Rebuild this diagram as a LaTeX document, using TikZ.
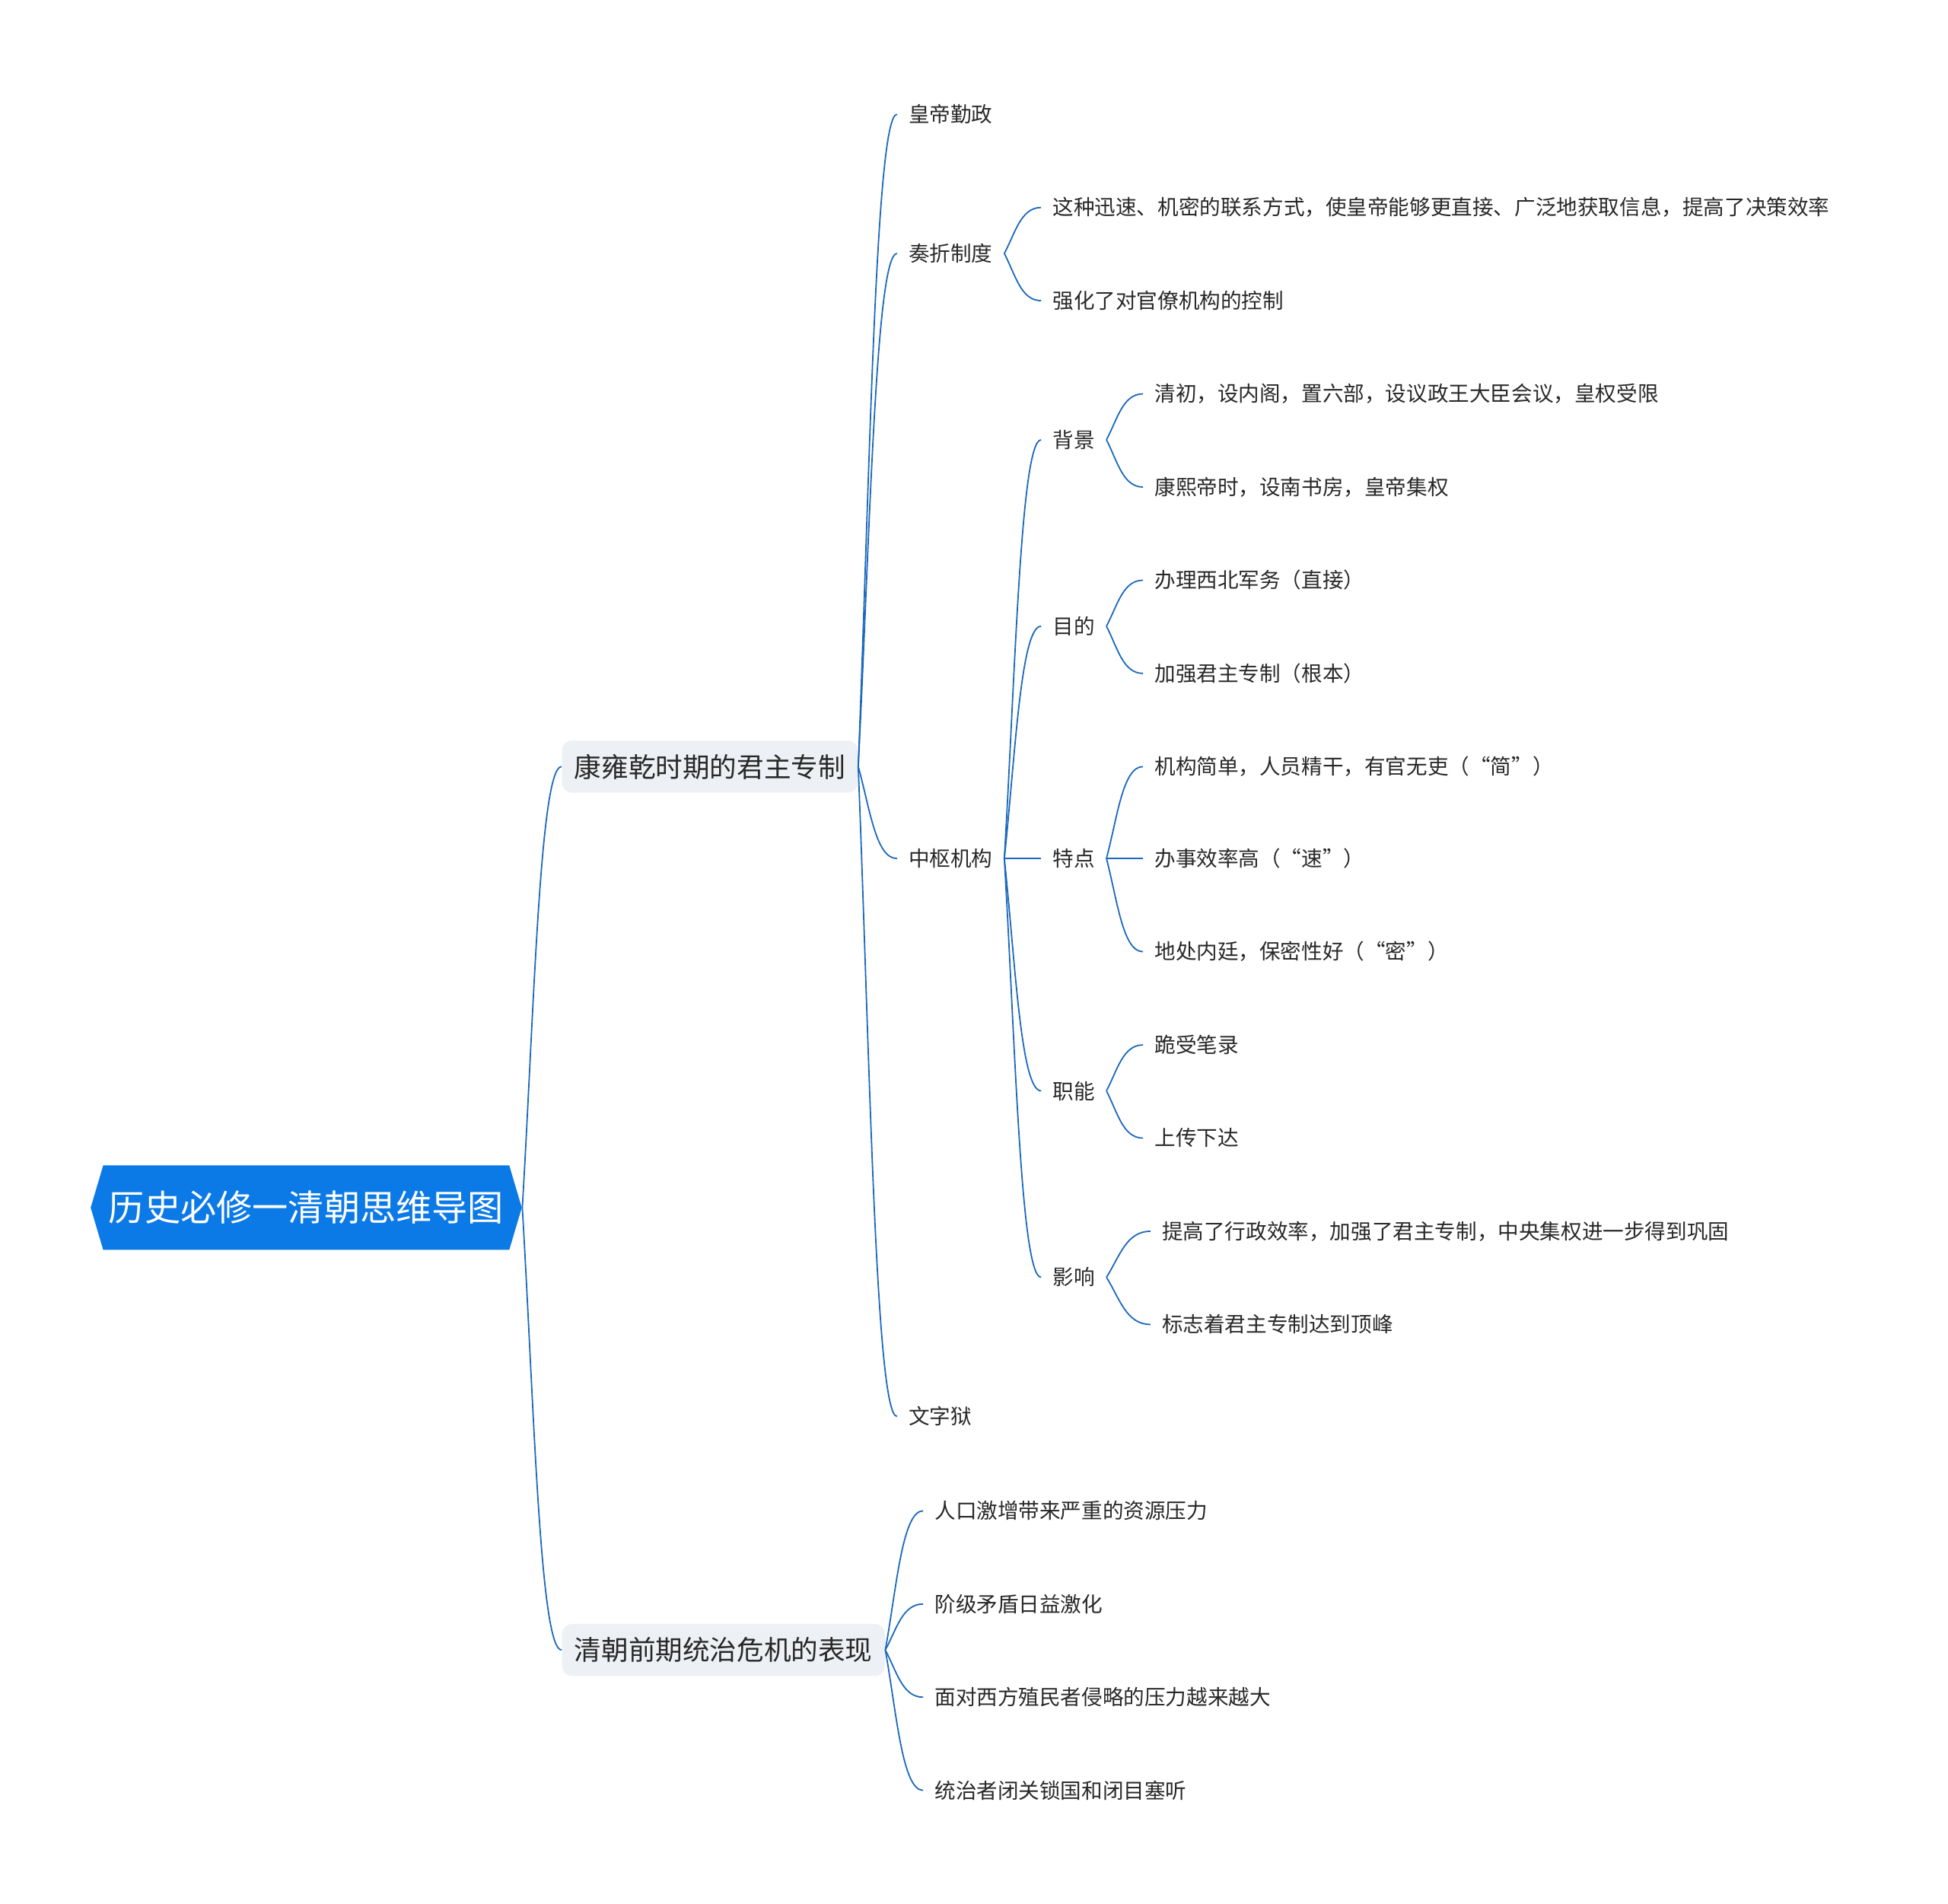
\documentclass[tikz,border=0pt]{standalone}
\usepackage{fontspec}
\setmainfont{Noto Sans CJK SC}[CharacterWidth=Full]
\usetikzlibrary{calc,shapes.symbols}
\definecolor{rootblue}{RGB}{12,122,230}
\definecolor{linkblue}{RGB}{28,104,188}
\definecolor{topicgray}{RGB}{237,240,244}
\definecolor{textdark}{RGB}{40,40,40}
\begin{document}
\begin{tikzpicture}[x=0.5pt,y=-0.5pt,
	rootnode/.style={signal, signal to=west and east, signal pointer angle=147, fill=rootblue, text=white, inner sep=0pt, minimum width=173.5pt, minimum height=34pt, font=\fontsize{14.45}{17}\selectfont},
	topic/.style={anchor=west, rounded corners=4pt, fill=topicgray, text=textdark, inner xsep=5pt, inner ysep=0pt, minimum height=21pt, font=\fontsize{10.9}{13}\selectfont},
	leaf/.style={anchor=west, text=textdark, inner xsep=4.5pt, inner ysep=2pt, font=\fontsize{8.45}{10}\selectfont},
	link/.style={draw=linkblue, line width=0.55pt, to path={let \p1=(\tikztostart), \p2=(\tikztotarget) in .. controls ({\x1+0.3*(\x2-\x1)},{\y1+0.45*(\y2-\y1)}) and ({\x2-0.55*(\x2-\x1)},\y2) .. (\tikztotarget)}}]
			\useasboundingbox (0,0) rectangle (1568,1532);
			\node [rootnode] (root) at (246.5,972) {历史必修一清朝思维导图};
			\node [topic] (kyq) at (452,617) {康雍乾时期的君主专制};
			\node [topic] (wj) at (452,1328) {清朝前期统治危机的表现};
			\node [leaf] (hd) at (722,92) {皇帝勤政};
			\node [leaf] (zz) at (722,204) {奏折制度};
			\node [leaf] (zs) at (722,691) {中枢机构};
			\node [leaf] (wzy) at (722,1140) {文字狱};
			\node [leaf] (zz1) at (838,167) {这种迅速、机密的联系方式，使皇帝能够更直接、广泛地获取信息，提高了决策效率};
			\node [leaf] (zz2) at (838,242) {强化了对官僚机构的控制};
			\node [leaf] (bj) at (838,354) {背景};
			\node [leaf] (md) at (838,504) {目的};
			\node [leaf] (td) at (838,691) {特点};
			\node [leaf] (zn) at (838,878) {职能};
			\node [leaf] (yx) at (838,1028) {影响};
			\node [leaf] (bj1) at (920,317) {清初，设内阁，置六部，设议政王大臣会议，皇权受限};
			\node [leaf] (bj2) at (920,392) {康熙帝时，设南书房，皇帝集权};
			\node [leaf] (md1) at (920,467) {办理西北军务（直接）};
			\node [leaf] (md2) at (920,542) {加强君主专制（根本）};
			\node [leaf] (td1) at (920,617) {机构简单，人员精干，有官无吏（“简”）};
			\node [leaf] (td2) at (920,691) {办事效率高（“速”）};
			\node [leaf] (td3) at (920,766) {地处内廷，保密性好（“密”）};
			\node [leaf] (zn1) at (920,841) {跪受笔录};
			\node [leaf] (zn2) at (920,916) {上传下达};
			\node [leaf] (yx1) at (926,991) {提高了行政效率，加强了君主专制，中央集权进一步得到巩固};
			\node [leaf] (yx2) at (926,1066) {标志着君主专制达到顶峰};
			\node [leaf] (wj1) at (743,1216) {人口激增带来严重的资源压力};
			\node [leaf] (wj2) at (743,1291) {阶级矛盾日益激化};
			\node [leaf] (wj3) at (743,1366) {面对西方殖民者侵略的压力越来越大};
			\node [leaf] (wj4) at (743,1441) {统治者闭关锁国和闭目塞听};
			\draw [link] (root.east) to (kyq.west);
			\draw [link] (root.east) to (wj.west);
			\draw [link] (kyq.east) to (hd.west);
			\draw [link] (kyq.east) to (zz.west);
			\draw [link] (kyq.east) to (zs.west);
			\draw [link] (kyq.east) to (wzy.west);
			\draw [link] (zz.east) to (zz1.west);
			\draw [link] (zz.east) to (zz2.west);
			\draw [link] (zs.east) to (bj.west);
			\draw [link] (zs.east) to (md.west);
			\draw [link] (zs.east) to (td.west);
			\draw [link] (zs.east) to (zn.west);
			\draw [link] (zs.east) to (yx.west);
			\draw [link] (bj.east) to (bj1.west);
			\draw [link] (bj.east) to (bj2.west);
			\draw [link] (md.east) to (md1.west);
			\draw [link] (md.east) to (md2.west);
			\draw [link] (td.east) to (td1.west);
			\draw [link] (td.east) to (td2.west);
			\draw [link] (td.east) to (td3.west);
			\draw [link] (zn.east) to (zn1.west);
			\draw [link] (zn.east) to (zn2.west);
			\draw [link] (yx.east) to (yx1.west);
			\draw [link] (yx.east) to (yx2.west);
			\draw [link] (wj.east) to (wj1.west);
			\draw [link] (wj.east) to (wj2.west);
			\draw [link] (wj.east) to (wj3.west);
			\draw [link] (wj.east) to (wj4.west);
		\end{tikzpicture}
\end{document}
